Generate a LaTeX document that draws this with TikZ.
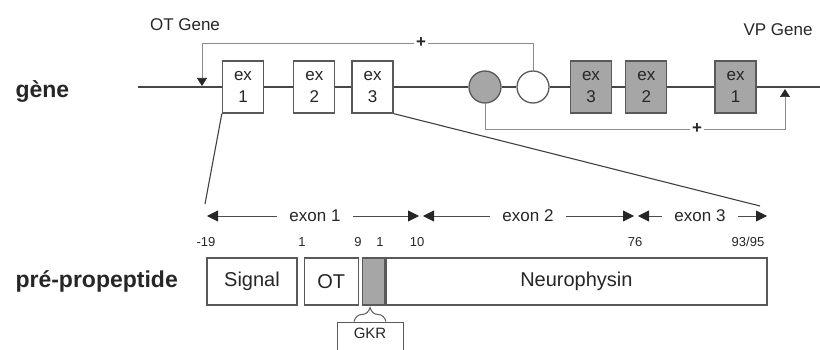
\documentclass[tikz,border=0pt]{standalone}
\usepackage{fontspec}
\setmainfont{Liberation Sans}
\usepackage{tikz}
\usetikzlibrary{arrows.meta, positioning, decorations.pathreplacing}

\begin{document}
\begin{tikzpicture}[
    x=1pt, y=-1pt,
    font=\fontsize{17}{20}\selectfont,
    text=black!85,
    %% gene styles
    exbox/.style={
        draw=black!65, line width=1.3pt, fill=white,
        minimum width=41pt, minimum height=52pt,
        inner sep=0pt, align=center, font=\fontsize{17}{22}\selectfont
    },
    vpbox/.style={exbox, fill=black!35},
    enh/.style={
        circle, draw=black!65, line width=1.3pt,
        minimum size=32pt, inner sep=0pt
    },
    %% peptide styles
    seg/.style={
        draw=black!65, line width=1.3pt, fill=white,
        minimum height=47pt, inner sep=0pt, font=\fontsize{20}{24}\selectfont
    },
    gkrbox/.style={
        draw=black!65, line width=1pt, minimum width=66pt,
        inner ysep=0pt, text height=16pt, text depth=14pt,
        anchor=base, font=\fontsize{15}{18}\selectfont
    },
    %% line styles
    geneline/.style={line width=2.8pt, black!72},
    reg/.style={line width=0.7pt, black!45},
    prom/.style={reg, -{Triangle[length=8pt, width=10pt, black!85]}},
    zoomline/.style={line width=1.1pt, black!75},
    span/.style={line width=0.9pt, black!70, -{Triangle[length=11pt, width=11pt, black!85]}},
    brace/.style={decorate, decoration={brace, amplitude=14pt}, line width=1pt, black!65},
    %% label styles
    lbl/.style={font=\fontsize{17}{20}\selectfont},
    exlbl/.style={lbl, inner xsep=12pt},
    num/.style={font=\fontsize{13}{15}\selectfont},
    side/.style={anchor=west, font=\bfseries\fontsize{23}{26}\selectfont},
    plus/.style={fill=white, inner sep=2pt, font=\bfseries\fontsize{17}{17}\selectfont}
]
    \useasboundingbox (0,0) rectangle (820,350);

    %% --- gene nodes -------------------------------------------
    \coordinate (gstart) at (138,87);
    \coordinate (gend)   at (820,87);

    \node[exbox] (ex1) at (243,87) {ex\\1};
    \node[exbox, right=29pt of ex1] (ex2) {ex\\2};
    \node[exbox, right=16pt of ex2] (ex3) {ex\\3};

    \node[enh, fill=black!35] (gcirc) at (485,87) {};
    \node[enh, fill=white]    (wcirc) at (533,87) {};

    \node[vpbox] (vp3) at (591,87) {ex\\3};
    \node[vpbox, right=13pt of vp3] (vp2) {ex\\2};
    \node[vpbox, right=47pt of vp2] (vp1) {ex\\1};

    \coordinate (otprom) at (202,86);
    \coordinate (vpprom) at (785,89);

    \node[lbl] (otlab) at (185,25) {OT Gene};
    \node[lbl] (vplab) at (778,30) {VP Gene};
    \node[side] (genlab) at (12,92) {gène};

    %% --- gene line and regulation -----------------------------
    \draw[geneline] (gstart) -- (ex1) -- (ex2) -- (ex3) -- (gcirc)
        -- (wcirc) -- (vp3) -- (vp2) -- (vp1) -- (gend);

    \node[plus] (otplus) at (421,43) {+};
    \node[plus] (vpplus) at (697,129) {+};

    \draw[prom] (wcirc.north) |- (otplus) -| (otprom);
    \draw[prom] (gcirc.south) |- (vpplus) -| (vpprom);

    %% --- zoom onto the OT exons -------------------------------
    \coordinate (pl) at (205,204);
    \coordinate (pr) at (760,206);
    \draw[zoomline] (ex1.south west) -- (pl);
    \draw[zoomline] (ex3.south east) -- (pr);

    %% --- exon spans -------------------------------------------
    \coordinate (t0) at (207,216);
    \coordinate (t1) at (421,216);
    \coordinate (t2) at (636,216);
    \coordinate (t3) at (767,216);

    \node[exlbl] (e1) at (315,216) {exon 1};
    \node[exlbl] (e2) at (528,216) {exon 2};
    \node[exlbl] (e3) at (700,216) {exon 3};

    \draw[span] (e1) -- (t0);
    \draw[span, shorten >=2pt] (e1) -- (t1);
    \draw[span, shorten >=2pt] (e2) -- (t1);
    \draw[span, shorten >=2pt] (e2) -- (t2);
    \draw[span, shorten >=2pt] (e3) -- (t2);
    \draw[span] (e3) -- (t3);

    %% --- residue numbers --------------------------------------
    \node[num] (n19)   at (206,242) {-19};
    \node[num] (n1)    at (302,242) {1};
    \node[num] (n9)    at (358,242) {9};
    \node[num] (ng1)   at (380,242) {1};
    \node[num] (n10)   at (417,242) {10};
    \node[num] (n76)   at (635,242) {76};
    \node[num] (n9395) at (748,242) {93/95};

    %% --- pre-propeptide ---------------------------------------
    \node[side] (pplab) at (12,281) {pré-propeptide};

    \node[seg, minimum width=90pt] (sig) at (252,281.5) {Signal};
    \node[seg, minimum width=54pt, right=6pt of sig] (ot) {OT};
    \node[seg, minimum width=22pt, fill=black!35, right=3pt of ot] (gkr) {};
    \node[seg, minimum width=381pt, right=0pt of gkr] (neu) {Neurophysin};

    \node[gkrbox] (gkrlab) at (370,338) {GKR};
    \draw[brace] ([xshift=-16pt]gkrlab.north) -- ([xshift=16pt]gkrlab.north);

\end{tikzpicture}
\end{document}
